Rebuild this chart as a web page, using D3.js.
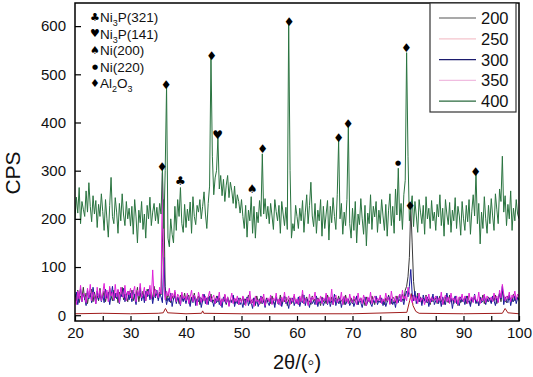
<!DOCTYPE html>
<html>
<head>
<meta charset="utf-8">
<script src="https://cdn.jsdelivr.net/npm/d3@7"></script>
<style>
  body { margin: 0; background: #fff; }
  text { font-family: "Liberation Sans", Arial, sans-serif; fill: #111; }
</style>
</head>
<body>
<div id="chartDiv"></div>
<script>
// legend names of the five curves
var seriesNames = ["200", "250", "300", "350", "400"];

// all noisy curves are read on a 0.25 degree grid from 20 to 100
var thetaStart = 20, thetaStep = 0.25;

var cps400 = [
  200,245,212,265,190,236,220,205,258,214,275,226,194,248,210,238,182,230,205,252,
  215,176,240,200,162,228,286,205,190,244,214,170,232,196,252,208,186,236,200,222,
  185,226,168,240,204,150,218,192,236,178,210,160,228,200,245,186,214,232,196,224,
  190,232,210,306,180,300,476,160,142,200,168,150,226,176,240,205,265,190,172,230,
  182,220,196,235,170,246,205,188,228,214,240,200,226,256,210,180,232,268,538,330,
  250,285,300,368,262,290,248,282,236,270,290,244,276,258,232,268,222,250,236,212,
  240,205,180,228,162,218,196,246,170,226,160,214,192,238,205,335,210,242,200,226,
  190,232,206,178,240,215,196,228,170,236,210,186,224,178,606,300,160,190,175,228,
  205,180,222,196,238,172,214,250,190,228,276,206,184,232,170,218,196,240,164,226,
  180,210,238,156,226,192,244,205,178,250,362,200,232,168,214,186,240,392,190,160,
  222,176,236,150,210,188,242,200,168,228,144,212,190,250,178,226,204,236,172,218,
  190,240,206,176,230,164,218,252,186,226,170,262,208,305,196,232,178,250,280,545,
  330,196,222,248,184,236,206,172,240,214,190,228,168,246,200,222,180,238,196,214,
  176,230,204,250,186,222,164,240,210,188,234,172,218,196,244,180,226,206,166,236,
  200,176,228,194,240,168,216,250,206,295,190,232,148,214,180,246,200,170,228,190,
  242,206,176,252,220,190,262,236,330,214,248,186,230,200,258,176,222,196,240,210,200
];

var cps300 = [
  30,48,22,40,55,28,44,36,20,52,34,46,26,58,38,24,50,32,45,28,
  42,26,54,36,48,22,40,60,30,46,34,52,24,44,38,56,28,42,50,32,
  46,28,52,36,22,48,40,58,30,44,26,50,38,54,32,46,24,42,36,52,
  30,44,38,26,120,40,22,36,28,46,18,34,40,24,38,30,20,42,28,36,
  24,40,30,18,36,26,42,20,34,28,38,16,30,44,24,36,22,40,28,32,
  18,34,26,40,22,30,16,38,28,24,36,20,32,26,42,18,30,24,36,22,
  28,16,34,24,38,20,30,26,14,36,22,32,18,28,40,24,30,16,34,26,
  20,36,24,30,16,38,26,22,34,18,30,40,24,28,14,32,26,36,20,30,
  24,38,18,30,26,42,20,34,28,16,36,24,30,22,40,18,32,26,36,20,
  28,40,22,34,18,30,26,44,20,32,24,36,16,30,38,22,28,34,20,26,
  32,18,28,40,22,34,26,16,30,38,20,28,36,24,18,32,26,40,22,30,
  26,36,20,32,18,28,40,24,34,22,30,16,36,26,44,28,34,22,40,50,
  38,60,95,44,30,50,24,40,28,36,20,42,30,26,38,18,34,28,44,22,
  30,40,24,34,18,38,28,22,46,30,26,36,14,32,40,24,30,20,38,28,
  34,22,40,26,30,18,36,28,44,24,32,20,38,26,30,42,22,34,28,36,
  24,40,30,20,36,28,46,34,60,22,38,30,26,42,20,34,28,40,24,36,30
];

var cps350 = [
  38,22,50,34,62,28,46,40,26,56,36,64,30,48,42,24,58,36,52,30,
  46,66,34,52,28,60,40,48,32,64,38,54,26,58,44,36,62,30,50,42,
  56,34,48,60,28,52,40,66,36,44,58,30,50,42,62,34,94,38,54,46,
  36,58,44,295,60,32,50,40,56,30,46,36,52,28,44,38,22,48,34,40,
  30,46,24,38,52,28,42,34,20,48,36,26,44,30,40,22,38,50,28,36,
  42,24,36,30,48,20,34,28,44,26,38,18,32,46,24,36,28,40,22,34,
  26,40,30,20,36,28,50,24,34,18,40,28,32,22,38,26,44,20,30,36,
  28,42,22,36,30,46,24,34,20,38,28,48,26,32,40,22,36,28,44,24,
  34,22,40,28,52,24,36,30,20,44,26,38,32,48,22,34,28,40,24,36,
  30,46,24,38,28,54,22,36,42,26,34,30,48,22,40,28,36,24,44,30,
  26,40,32,22,46,28,36,24,42,30,20,38,28,48,24,34,40,26,36,30,
  42,24,34,28,46,30,38,22,50,32,28,40,24,36,44,28,52,34,40,30,
  58,46,36,26,42,30,38,24,46,28,36,32,22,40,28,44,26,38,30,34,
  40,26,36,30,48,22,34,42,28,38,24,46,30,36,26,40,22,38,32,44,
  28,40,34,24,46,30,38,26,42,32,28,48,24,36,30,44,26,40,34,30,
  38,28,46,32,40,26,52,36,64,44,30,40,34,48,28,42,36,50,32,44,38
];

var cps200 = [
  44,30,52,26,40,36,58,32,46,24,42,38,54,28,48,34,40,30,56,36,
  38,50,28,44,34,56,40,30,52,36,46,26,48,38,58,32,44,40,28,50,
  36,52,30,44,40,58,28,46,34,50,38,30,54,42,36,48,32,60,40,44,
  34,48,42,150,240,60,30,44,36,26,40,32,48,28,38,24,42,34,30,46,
  28,36,42,24,38,30,46,26,34,40,22,36,28,42,32,24,38,30,44,26,
  32,24,40,28,36,20,34,30,42,22,38,26,32,28,40,24,34,30,22,36,
  28,38,22,34,30,42,24,32,26,36,20,40,28,34,24,38,30,22,36,28,
  32,24,40,28,22,36,30,26,42,24,34,28,38,20,32,36,24,30,40,26,
  30,22,36,28,44,24,32,38,26,30,22,40,28,34,24,36,30,20,38,28,
  34,24,42,30,26,38,22,32,36,28,40,24,30,34,22,42,28,32,26,36,
  24,34,28,40,22,30,36,26,32,20,38,28,34,24,40,30,22,36,28,32,
  38,26,32,22,36,28,42,30,24,38,34,26,40,28,32,36,44,30,52,60,
  80,120,226,150,70,40,32,46,28,38,24,36,30,42,26,34,22,38,28,32,
  36,24,30,40,28,34,22,38,30,26,42,28,34,24,36,30,20,38,26,32,
  28,36,24,40,30,22,34,28,38,26,32,20,36,30,42,24,34,28,38,30,
  26,36,30,42,24,34,46,28,50,38,30,26,40,32,36,28,44,30,34,38,32
];

// the 250 curve is a flat baseline, read only where it changes
var theta250 = [20, 25, 30, 35, 35.9, 36.3, 36.7, 40, 42.8, 43.0, 43.2, 50, 60, 70, 79.8, 80.3, 80.6, 80.9, 81.4, 82, 90, 97.0, 97.5, 98.0, 100];
var cps250   = [3, 4, 3, 4, 5, 14, 5, 3, 4, 9, 4, 3, 3, 3, 6, 30, 45, 20, 8, 4, 3, 4, 14, 5, 3];

// phase markers above the peaks
var markerSymbols = ["\u2666","\u2666","\u2663","\u2666","\u2665","\u2660","\u2666","\u2666","\u2666","\u2666","\u25cf","\u2666","\u2666","\u2666"];
var markerTheta   = [35.7, 36.4, 39.0, 44.6, 45.7, 51.9, 53.8, 58.6, 67.5, 69.2, 78.2, 79.7, 80.4, 92.2];
var markerCps     = [307, 478, 278, 538, 375, 262, 345, 609, 367, 397, 316, 555, 226, 298];

// phase key (top left)
var phaseSymbols = ["\u2663", "\u2665", "\u2660", "\u25cf", "\u2666"];
var phaseNames = [["Ni", "3", "P(321)"], ["Ni", "3", "P(141)"], ["Ni(200)"], ["Ni(220)"], ["Al", "2", "O", "3", ""]];

var yTicks = [0, 100, 200, 300, 400, 500, 600];
var xTicks = [20, 25, 30, 35, 40, 45, 50, 55, 60, 65, 70, 75, 80, 85, 90, 95, 100];

function chartInit() {
	var width = 533, height = 377;
	var left = 75, right = 519, top = 3, bottom = 321;

	var x = d3.scaleLinear().domain([20, 100]).range([left, right]);
	var y = d3.scaleLinear().domain([-12, 648]).range([bottom, top]);

	var svg = d3.select("#chartDiv")
		.append("svg")
		.attr("width", width)
		.attr("height", height);

	svg.append("clipPath").attr("id", "plotClip")
		.append("rect")
		.attr("x", left).attr("y", top)
		.attr("width", right - left).attr("height", bottom - top);

	var gridTheta = function(i) { return thetaStart + i * thetaStep; };

	var line = d3.line()
		.x(function(d) { return x(d[0]); })
		.y(function(d) { return y(d[1]); });

	var series = [
		{ name: "200", pts: cps200.map(function(v, i) { return [gridTheta(i), v]; }), color: "#3a3a3a" },
		{ name: "250", pts: theta250.map(function(t, i) { return [t, cps250[i]]; }), color: "#a01c1c" },
		{ name: "300", pts: cps300.map(function(v, i) { return [gridTheta(i), v]; }), color: "#1c1c9a" },
		{ name: "350", pts: cps350.map(function(v, i) { return [gridTheta(i), v]; }), color: "#e020d8" },
		{ name: "400", pts: cps400.map(function(v, i) { return [gridTheta(i), v]; }), color: "#2a7440" }
	];

	var plot = svg.append("g").attr("clip-path", "url(#plotClip)");
	series.forEach(function(s) {
		plot.append("path")
			.attr("d", line(s.pts))
			.attr("fill", "none")
			.attr("stroke", s.color)
			.attr("stroke-width", 1);
	});

	// peak markers
	svg.append("g").selectAll("text")
		.data(markerSymbols)
		.enter().append("text")
		.attr("x", function(d, i) { return x(markerTheta[i]); })
		.attr("y", function(d, i) { return y(markerCps[i]); })
		.attr("text-anchor", "middle")
		.attr("dominant-baseline", "central")
		.style("font-family", "DejaVu Sans")
		.style("font-size", function(d) { return d == "\u25cf" ? "7px" : "12px"; })
		.style("fill", "#000")
		.text(function(d) { return d; });

	// axes, ticks pointing inward
	var yAxis = svg.append("g")
		.attr("transform", "translate(" + left + ",0)")
		.call(d3.axisLeft(y).tickValues(yTicks).tickSize(-6).tickPadding(9));
	var xAxis = svg.append("g")
		.attr("transform", "translate(0," + bottom + ")")
		.call(d3.axisBottom(x).tickValues(xTicks).tickSize(-5).tickPadding(6)
			.tickFormat(function(d) { return d % 10 == 0 ? d : ""; }));
	[yAxis, xAxis].forEach(function(a) {
		a.select(".domain").remove();
		a.selectAll("line").attr("stroke", "#000").attr("stroke-width", 1.2);
		a.selectAll("text").style("font-size", "15px").style("fill", "#111")
			.style("font-family", "\"Liberation Sans\", Arial, sans-serif");
	});

	// frame
	svg.append("rect")
		.attr("x", left).attr("y", top)
		.attr("width", right - left).attr("height", bottom - top)
		.attr("fill", "none").attr("stroke", "#000").attr("stroke-width", 1.5);

	// axis titles
	svg.append("text")
		.attr("x", (left + right) / 2).attr("y", 369)
		.attr("text-anchor", "middle")
		.style("font-size", "20px")
		.text("2\u03b8/(\u25e6)");
	svg.append("text")
		.attr("transform", "translate(20,173) rotate(-90)")
		.attr("text-anchor", "middle")
		.style("font-size", "21px")
		.text("CPS");

	// phase key
	var key = svg.append("g");
	phaseNames.forEach(function(parts, i) {
		var yy = 17 + i * 16.5;
		key.append("text")
			.attr("x", 95).attr("y", yy)
			.attr("text-anchor", "middle")
			.attr("dominant-baseline", "central")
			.style("font-family", "DejaVu Sans")
			.style("font-size", phaseSymbols[i] == "\u25cf" ? "7px" : "11px")
			.style("fill", "#000")
			.text(phaseSymbols[i]);
		var t = key.append("text")
			.attr("x", 100).attr("y", yy + 5)
			.style("font-size", "13.5px");
		parts.forEach(function(p, j) {
			var sub = j % 2 == 1;
			t.append("tspan")
				.attr("dy", sub ? 4 : (j == 0 ? 0 : -4))
				.style("font-size", sub ? "9px" : "13.5px")
				.text(p);
		});
	});

	// series legend
	var legend = svg.append("g");
	legend.append("rect")
		.attr("x", 430).attr("y", 3)
		.attr("width", 86).attr("height", 109)
		.attr("fill", "#fff").attr("stroke", "#333").attr("stroke-width", 1.2);
	var legendColors = ["#555", "#f4c4cc", "#1c1c6e", "#f0bce0", "#2a6a3e"];
	seriesNames.forEach(function(name, i) {
		var yy = 18 + i * 20.8;
		legend.append("line")
			.attr("x1", 439).attr("x2", 476)
			.attr("y1", yy).attr("y2", yy)
			.attr("stroke", legendColors[i]).attr("stroke-width", 1.2);
		legend.append("text")
			.attr("x", 481).attr("y", yy + 6)
			.style("font-size", "16.5px")
			.text(name);
	});
}

chartInit();
</script>
</body>
</html>
